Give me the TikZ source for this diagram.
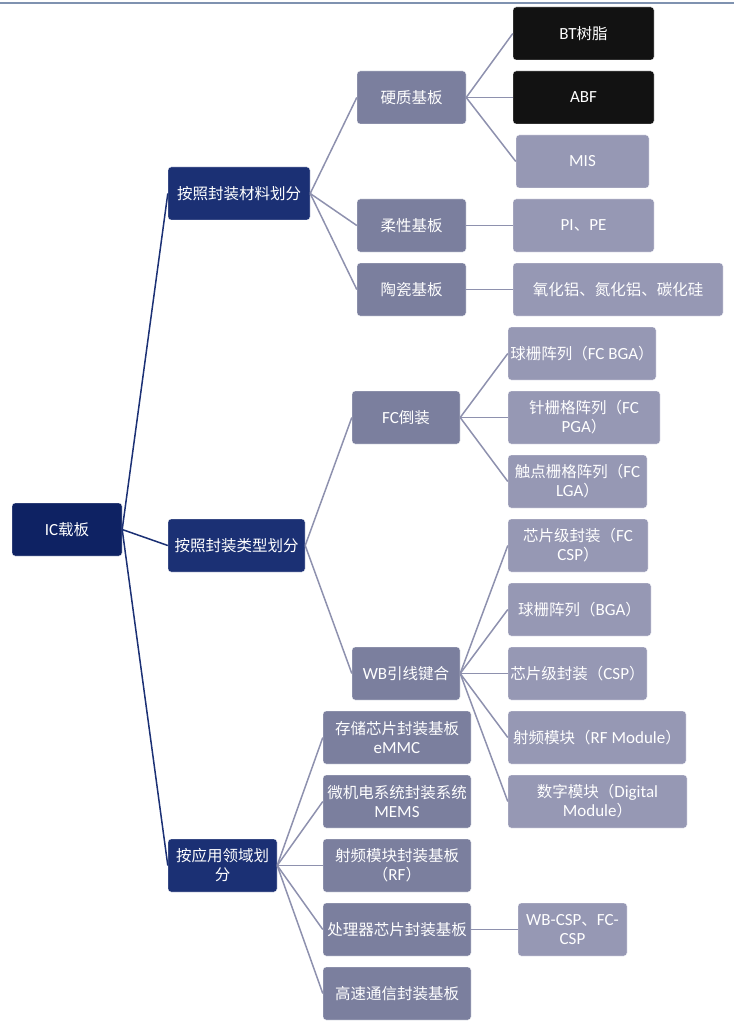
\documentclass[tikz,border=0pt]{standalone}
\usepackage{fontspec}
\setmainfont{Noto Sans CJK SC}
\newfontfamily\enfont{Carlito}
\newcommand\en{\enfont\fontsize{17}{19}\selectfont}
\usetikzlibrary{calc}

\definecolor{rootblue}{HTML}{0E2263}
\definecolor{navy}{HTML}{1B3074}
\definecolor{slate}{HTML}{7B7F9E}
\definecolor{lilac}{HTML}{9698B4}
\definecolor{inkblack}{HTML}{121212}
\definecolor{wire}{HTML}{8E91AE}
\definecolor{rule}{HTML}{7F92B0}

\tikzset{
  card/.style={rounded corners=3pt, minimum height=53pt, inner sep=1pt,
    text=white, align=center, font=\fontsize{15.5}{19}\selectfont, draw=white, line width=0.4pt},
  rootcard/.style={card, fill=rootblue},
  lvone/.style={card, fill=navy},
  lvtwo/.style={card, fill=slate},
  lvthree/.style={card, fill=lilac},
  lvblack/.style={card, fill=inkblack},
  navyline/.style={draw=navy, line width=1.5pt},
  grayline/.style={draw=wire, line width=1.5pt}
}

\begin{document}
\begin{tikzpicture}[x=1pt,y=-1pt]
          \useasboundingbox (0,0) rectangle (734,1024);
          \draw[rule, line width=1.5pt] (0,3) -- (734,3);

          \node[rootcard, minimum width=110pt] (ic) at (67,529.5){{\en IC}载板};

          \node[lvone, minimum width=142pt] (mat) at (239,193.5){按照封装材料划分};
          \node[lvone, minimum width=137pt] (typ) at (236.5,545.5){按照封装类型划分};
          \node[lvone, minimum width=109pt] (app) at (222.5,865.5){按应用领域划\\分};

          % material
          \node[lvtwo, minimum width=109pt] (hard) at (411.5,97.5){硬质基板};
          \node[lvtwo, minimum width=109pt] (soft) at (411.5,225.5){柔性基板};
          \node[lvtwo, minimum width=109pt] (cera) at (411.5,289.5){陶瓷基板};
          \node[lvblack, minimum width=141pt] (bt) at (583.5,33.5){{\en BT}树脂};
          \node[lvblack, minimum width=141pt] (abf) at (583.5,97.5){{\en ABF}};
          \node[lvthree, minimum width=133pt] (mis) at (582.5,161.5){{\en MIS}};
          \node[lvthree, minimum width=141pt] (pipe) at (583.5,225.5){{\en PI}、{\en PE}};
          \node[lvthree, minimum width=210pt] (oxid) at (618,289.5){氧化铝、氮化铝、碳化硅};

          % package type
          \node[lvtwo, minimum width=108pt] (fc) at (406,417.5){{\en FC}倒装};
          \node[lvtwo, minimum width=108pt] (wb) at (406,673.5){{\en WB}引线键合};
          \node[lvthree, minimum width=148pt] (fcbga) at (582,353.5){球栅阵列（{\en FC BGA}）};
          \node[lvthree, minimum width=152pt] (fcpga) at (584,417.5){针栅格阵列（{\en FC}\\{\en PGA}）};
          \node[lvthree, minimum width=139pt] (fclga) at (577.5,481.5){触点栅格阵列（{\en FC}\\{\en LGA}）};
          \node[lvthree, minimum width=140pt] (fccsp) at (578,545.5){芯片级封装（{\en FC}\\{\en CSP}）};
          \node[lvthree, minimum width=143pt] (bga) at (579.5,609.5){球栅阵列（{\en BGA}）};
          \node[lvthree, minimum width=139pt] (csp) at (577.5,673.5){芯片级封装（{\en CSP}）};
          \node[lvthree, minimum width=178pt] (rfm) at (597,737.5){射频模块（{\en RF Module}）};
          \node[lvthree, minimum width=179pt] (digm) at (597.5,801.5){数字模块（{\en Digital}\\{\en Module}）};

          % application
          \node[lvtwo, minimum width=148pt] (emmc) at (397,737.5){存储芯片封装基板\\{\en eMMC}};
          \node[lvtwo, minimum width=148pt] (mems) at (397,801.5){微机电系统封装系统\\{\en MEMS}};
          \node[lvtwo, minimum width=148pt] (rfsub) at (397,865.5){射频模块封装基板\\（{\en RF}）};
          \node[lvtwo, minimum width=148pt] (cpu) at (397,929.5){处理器芯片封装基板};
          \node[lvtwo, minimum width=148pt] (hsc) at (397,993.5){高速通信封装基板};
          \node[lvthree, minimum width=109pt] (wbfc) at (572.5,929.5){{\en WB-CSP}、{\en FC-}\\{\en CSP}};

          \foreach \k in {mat,typ,app}
            \draw[navyline] (ic.east) -- (\k.west);
          \foreach \k in {hard,soft,cera}
            \draw[grayline] (mat.east) -- (\k.west);
          \foreach \k in {bt,abf,mis}
            \draw[grayline] (hard.east) -- (\k.west);
          \draw[grayline] (soft.east) -- (pipe.west);
          \draw[grayline] (cera.east) -- (oxid.west);
          \foreach \k in {fc,wb}
            \draw[grayline] (typ.east) -- (\k.west);
          \foreach \k in {fcbga,fcpga,fclga}
            \draw[grayline] (fc.east) -- (\k.west);
          \foreach \k in {fccsp,bga,csp,rfm,digm}
            \draw[grayline] (wb.east) -- (\k.west);
          \foreach \k in {emmc,mems,rfsub,cpu,hsc}
            \draw[grayline] (app.east) -- (\k.west);
          \draw[grayline] (cpu.east) -- (wbfc.west);
        \end{tikzpicture}
\end{document}
